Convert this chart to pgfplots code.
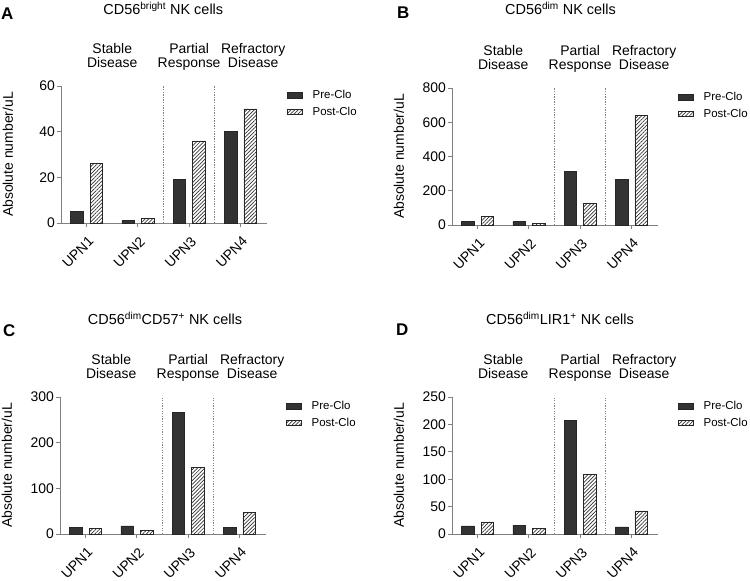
\documentclass[border=0pt]{standalone}
\usepackage{pgfplots}
\pgfplotsset{compat=1.18}
\usepackage{fontspec}
\setmainfont{Liberation Sans}
\usetikzlibrary{patterns.meta}
\definecolor{barfill}{HTML}{333333}
\definecolor{axgray}{HTML}{808080}
\tikzset{
  sep/.style={axgray, line width=0.6bp, dash pattern=on 1.3bp off 1.3bp},
  grp/.style={anchor=base, font=\fontsize{14}{15}\selectfont, inner sep=0pt},
}
\pgfplotsset{
  panel/.style={
    scale only axis, width=206bp, height=137bp,
    axis x line*=bottom, axis y line*=left,
    axis line style={axgray, line width=0.8bp},
    every tick/.style={axgray, line width=0.8bp},
    tick align=outside, major tick length=4bp,
    xmin=-0.5, xmax=3.52, ymin=0,
    xtick={0,1,2,3}, xticklabels={UPN1,UPN2,UPN3,UPN4},
    x tick label style={xshift=1bp, yshift=-7bp, rotate=45, anchor=north east, inner sep=1bp, font=\fontsize{14}{15}\selectfont},
    y tick label style={font=\fontsize{14}{16}\selectfont, inner sep=2bp},
    /pgf/number format/assume math mode=true,
    ylabel={Absolute number/uL},
    ylabel style={at={(axis description cs:-0.258,0.5)}, anchor=center, font=\fontsize{14}{16}\selectfont},
    legend style={at={(rel axis cs:1,1)}, anchor=north west, xshift=20bp, yshift=-2bp,
      draw=none, fill=none, font=\fontsize{11.5}{13}\selectfont, inner sep=0pt,
      row sep=3bp, /tikz/every odd column/.append style={column sep=8bp}},
    legend cell align=left,
    legend image code/.code={\draw[#1] (0bp,-2.8bp) rectangle (15bp,2.8bp);},
    clip=false,
  },
  pre/.style={ybar, bar width=12.5bp, bar shift=-9.75bp, fill=barfill, draw=black!85, line width=0.5bp},
  post/.style={ybar, bar width=12.5bp, bar shift=9.75bp, draw=black!85, line width=0.5bp,
    pattern={Lines[angle=45,distance=2.6bp,line width=0.7bp]}, pattern color=black!80},
}
\newcommand{\groups}[1]{%
  \node[grp] at ([yshift=32.7bp]axis cs:0.5,#1) {Stable};
  \node[grp] at ([yshift=18.3bp]axis cs:0.5,#1) {Disease};
  \node[grp] at ([yshift=32.7bp]axis cs:2.0,#1) {Partial};
  \node[grp] at ([yshift=18.3bp]axis cs:2.0,#1) {Response};
  \node[grp] at ([yshift=32.7bp]axis cs:3.25,#1) {Refractory};
  \node[grp] at ([yshift=18.3bp]axis cs:3.25,#1) {Disease};
  \draw[sep] (axis cs:1.5,0) -- (axis cs:1.5,#1);
  \draw[sep] (axis cs:2.5,0) -- (axis cs:2.5,#1);
}
\begin{document}
\begin{tikzpicture}
\useasboundingbox (0bp,0bp) rectangle (750bp,581bp);
% titles and panel letters
\node[anchor=base west, inner sep=0, font=\fontsize{17}{19}\selectfont\bfseries] at (1bp,561bp) {A};
\node[anchor=base west, inner sep=0, font=\fontsize{17}{19}\selectfont\bfseries] at (397bp,562bp) {B};
\node[anchor=base west, inner sep=0, font=\fontsize{17}{19}\selectfont\bfseries] at (3bp,244bp) {C};
\node[anchor=base west, inner sep=0, font=\fontsize{17}{19}\selectfont\bfseries] at (396bp,245.5bp) {D};
\node[anchor=base, inner sep=0, font=\fontsize{14.5}{16}\selectfont] at (163.3bp,566bp) {CD56\textsuperscript{bright} NK cells};
\node[anchor=base, inner sep=0, font=\fontsize{14.5}{16}\selectfont] at (560.5bp,566bp) {CD56\textsuperscript{dim} NK cells};
\node[anchor=base, inner sep=0, font=\fontsize{14.5}{16}\selectfont] at (165bp,256bp) {CD56\textsuperscript{dim}CD57\textsuperscript{+} NK cells};
\node[anchor=base, inner sep=0, font=\fontsize{14.5}{16}\selectfont] at (560bp,256bp) {CD56\textsuperscript{dim}LIR1\textsuperscript{+} NK cells};

% Panel A
\begin{axis}[panel, at={(61bp,358bp)}, anchor=south west, ymax=60, ytick={0,20,40,60}]
\addplot[pre] coordinates {(0,5) (1,1) (2,19) (3,40)};
\addplot[post] coordinates {(0,26) (1,2) (2,36) (3,50)};
\legend{Pre-Clo,Post-Clo}
\groups{60}
\end{axis}

% Panel B
\begin{axis}[panel, at={(452bp,356bp)}, anchor=south west, ymax=800, ytick={0,200,400,600,800}]
\addplot[pre] coordinates {(0,22) (1,20) (2,315) (3,268)};
\addplot[post] coordinates {(0,50) (1,10) (2,127) (3,638)};
\legend{Pre-Clo,Post-Clo}
\groups{800}
\end{axis}

% Panel C
\begin{axis}[panel, at={(60bp,47bp)}, anchor=south west, ymax=300, ytick={0,100,200,300}]
\addplot[pre] coordinates {(0,14) (1,18) (2,267) (3,14)};
\addplot[post] coordinates {(0,13) (1,8) (2,146) (3,48)};
\legend{Pre-Clo,Post-Clo}
\groups{300}
\end{axis}

% Panel D
\begin{axis}[panel, at={(452bp,47bp)}, anchor=south west, ymax=250, ytick={0,50,100,150,200,250}]
\addplot[pre] coordinates {(0,15) (1,16) (2,208) (3,13)};
\addplot[post] coordinates {(0,22) (1,10) (2,109) (3,42)};
\legend{Pre-Clo,Post-Clo}
\groups{250}
\end{axis}
\end{tikzpicture}
\end{document}
